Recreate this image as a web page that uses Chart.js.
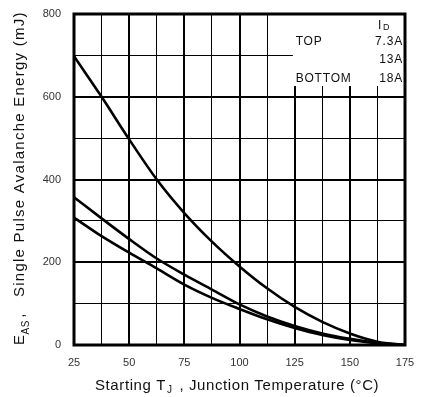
<!DOCTYPE html>
<html>
<head>
<meta charset="utf-8">
<script src="https://cdn.jsdelivr.net/npm/chart.js@4"></script>
<style>
html,body{margin:0;padding:0;background:#fff;}
#wrap{width:435px;height:397px;}
</style>
</head>
<body>
<div id="wrap"><canvas id="c" width="435" height="397"></canvas></div>
<script>
// Data
const temps = [25, 37.5, 50, 62.5, 75, 87.5, 100, 112.5, 125, 137.5, 150, 162.5, 175];
const eas_7_3A = [698, 600, 497, 400, 319, 250, 190, 137, 92, 56, 28, 8, 0];
const eas_13A  = [357, 306, 256, 209, 170, 134, 98, 69, 46, 28, 15, 5, 0];
const eas_18A  = [308, 263, 223, 185, 146, 114, 87, 62, 41, 24, 12, 4, 0];
const legendPos = ['TOP', '', 'BOTTOM'];
const legendCurrents = ['7.3A', '13A', '18A'];
const xTickLabels = [25, 50, 75, 100, 125, 150, 175];
const yTickLabels = [0, 200, 400, 600, 800];

const FONT = '"Liberation Sans", Arial, sans-serif';

function mk(vals) { return temps.map((t, i) => ({x: t, y: vals[i]})); }

const series = [eas_7_3A, eas_13A, eas_18A];

const overlay = {
  id: 'overlay',
  beforeDatasetsDraw(chart) {
    const ctx = chart.ctx;
    const xs = chart.scales.x, ys = chart.scales.y;
    // legend box (white) over grid in the upper right
    const bx = xs.getPixelForValue(124.2), by = chart.chartArea.top;
    const bw = chart.chartArea.right - bx, bh = ys.getPixelForValue(626) - by;
    ctx.save();
    ctx.fillStyle = '#fff';
    ctx.fillRect(bx, by, bw, bh);
    ctx.fillStyle = '#111';
    ctx.font = '12px ' + FONT;
    ctx.textBaseline = 'middle';
    ctx.letterSpacing = '0.8px';
    // header I_D
    const hx = chart.chartArea.right - 27, hy = by + 12;
    ctx.textAlign = 'left';
    ctx.fillText('I', hx, hy);
    ctx.font = '9px ' + FONT;
    ctx.letterSpacing = '0px';
    ctx.fillText('D', hx + ctx.measureText('I').width + 2.5, hy + 2);
    const rows = [by + 28, by + 46, by + 65];
    legendPos.forEach((t, i) => {
      ctx.font = '12px ' + FONT;
      ctx.letterSpacing = '0.8px';
      ctx.textAlign = 'left';
      if (t) ctx.fillText(t, xs.getPixelForValue(125) + 1, rows[i]);
      ctx.textAlign = 'right';
      ctx.fillText(legendCurrents[i], chart.chartArea.right - 2, rows[i]);
    });
    ctx.restore();
  },
  afterDraw(chart) {
    const ctx = chart.ctx;
    const a = chart.chartArea;
    ctx.save();
    // frame
    ctx.strokeStyle = '#000';
    ctx.lineWidth = 3;
    ctx.strokeRect(a.left, a.top, a.right - a.left, a.bottom - a.top);
    // x title
    ctx.fillStyle = '#111';
    ctx.textBaseline = 'alphabetic';
    ctx.textAlign = 'left';
    ctx.letterSpacing = '0.6px';
    let x = 95, y = 390;
    ctx.font = '15px ' + FONT;
    const p1 = 'Starting T';
    ctx.fillText(p1, x, y); x += ctx.measureText(p1).width + 1;
    ctx.font = '10px ' + FONT;
    ctx.fillText('J', x, y + 3); x += ctx.measureText('J').width + 2;
    ctx.font = '15px ' + FONT;
    ctx.fillText(' , Junction Temperature (\u00B0C)', x, y);
    // y title (rotated)
    ctx.translate(23.5, 345);
    ctx.rotate(-Math.PI / 2);
    x = 0;
    ctx.letterSpacing = '0.6px';
    ctx.font = '15px ' + FONT;
    ctx.fillText('E', x, 0); x += ctx.measureText('E').width;
    ctx.font = '10px ' + FONT;
    ctx.fillText('AS', x, 5); x += ctx.measureText('AS').width + 2;
    ctx.font = '15px ' + FONT;
    ctx.fillText(',', x, 0);
    ctx.letterSpacing = '1.25px';
    ctx.fillText('Single Pulse Avalanche Energy (mJ)', 48, 0);
    ctx.restore();
  }
};

new Chart(document.getElementById('c'), {
  type: 'line',
  data: {
    datasets: series.map(s => ({
      data: mk(s),
      borderColor: '#000',
      borderWidth: 2.6,
      pointRadius: 0,
      fill: false,
      cubicInterpolationMode: 'monotone'
    }))
  },
  options: {
    responsive: false,
    animation: false,
    events: [],
    layout: {padding: {top: 14, right: 30, left: 0, bottom: 0}},
    plugins: {legend: {display: false}, tooltip: {enabled: false}},
    scales: {
      x: {
        type: 'linear', min: 25, max: 175,
        afterFit(s) { s.height = 52; s.paddingLeft = 0; s.paddingRight = 0; },
        border: {display: false},
        grid: {
          color: '#000',
          drawTicks: false,
          lineWidth: c => (c.tick && xTickLabels.includes(c.tick.value)) ? 2 : 1
        },
        ticks: {
          stepSize: 12.5, autoSkip: false, maxRotation: 0, padding: 11,
          color: '#333', font: {family: FONT, size: 11},
          callback: v => xTickLabels.includes(v) ? String(v) : ''
        }
      },
      y: {
        min: 0, max: 800,
        afterFit(s) { s.width = 74; s.paddingTop = 0; s.paddingBottom = 0; },
        border: {display: false},
        grid: {
          color: '#000',
          drawTicks: false,
          lineWidth: c => (c.tick && yTickLabels.includes(c.tick.value)) ? 2 : 1
        },
        ticks: {
          stepSize: 100, autoSkip: false, padding: 13,
          color: '#333', font: {family: FONT, size: 11},
          callback: v => yTickLabels.includes(v) ? String(v) : ''
        }
      }
    }
  },
  plugins: [overlay]
});
</script>
</body>
</html>
